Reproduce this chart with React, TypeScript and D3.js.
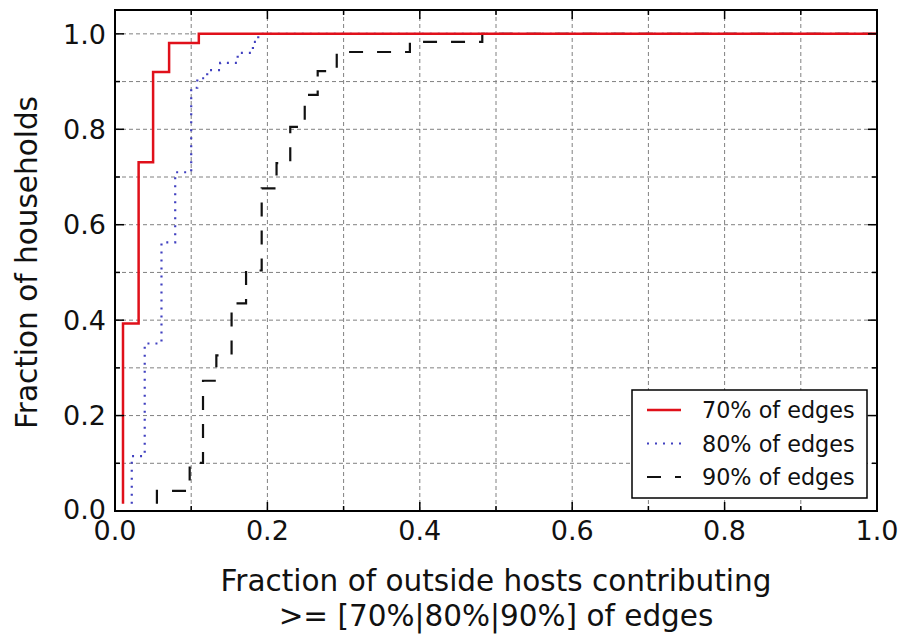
import React from "react";
import * as d3 from "d3";

// Step CDF points (x = fraction of outside hosts, y = fraction of households)
const red70X = [0.0105, 0.0105, 0.031, 0.05, 0.071, 0.11, 1.0];
const red70Y = [0.015, 0.393, 0.731, 0.92, 0.981, 1.0, 1.0];

const blue80X = [0.022, 0.022, 0.039, 0.061, 0.079, 0.1, 0.108, 0.121, 0.138, 0.161, 0.181, 0.188, 1.0];
const blue80Y = [0.015, 0.115, 0.351, 0.563, 0.71, 0.887, 0.907, 0.924, 0.939, 0.96, 0.983, 1.0, 1.0];

const black90X = [0.055, 0.055, 0.098, 0.1155, 0.133, 0.153, 0.172, 0.1925, 0.212, 0.23, 0.249, 0.266, 0.291, 0.387, 0.482, 1.0];
const black90Y = [0.015, 0.042, 0.101, 0.273, 0.326, 0.435, 0.504, 0.676, 0.729, 0.805, 0.872, 0.922, 0.962, 0.983, 1.0, 1.0];

const majorTicks = [0, 0.2, 0.4, 0.6, 0.8, 1.0];
const minorTicks = [0.1, 0.3, 0.5, 0.7, 0.9];
const gridTicks = [0.1, 0.2, 0.3, 0.4, 0.5, 0.6, 0.7, 0.8, 0.9];
const seriesLabels = ["70% of edges", "80% of edges", "90% of edges"];
const xLabel1 = "Fraction of outside hosts contributing";
const xLabel2 = ">= [70%|80%|90%] of edges";
const yLabel = "Fraction of households";

const W = 904;
const H = 637;
const L = 115, R = 877, T = 10, B = 511;
const FONT = "'DejaVu Sans', sans-serif";

export default function App() {
  const x = d3.scaleLinear().domain([0, 1]).range([L, R]);
  const y = d3.scaleLinear().domain([0, 1.05]).range([B, T]);
  const line = d3
    .line<[number, number]>()
    .x((d) => x(d[0]))
    .y((d) => y(d[1]))
    .curve(d3.curveStepAfter);
  const zip = (a: number[], b: number[]) => a.map((v, i) => [v, b[i]] as [number, number]);

  const series = [
    { pts: zip(black90X, black90Y), color: "#111", dash: "14,14", w: 2.2 },
    { pts: zip(blue80X, blue80Y), color: "#4040c0", dash: "2,6", w: 2.2 },
    { pts: zip(red70X, red70Y), color: "#e0101a", dash: "none", w: 2.5 },
  ];

  const fmt = d3.format(".1f");

  return (
    <svg width={W} height={H} style={{ display: "block", position: "absolute", left: 0, top: 0 }}>
      <rect x={0} y={0} width={W} height={H} fill="#fff" />
      {/* grid */}
      <g stroke="#808080" strokeWidth={1} strokeDasharray="4,3" fill="none">
        {gridTicks.map((t) => (
          <line key={"gx" + t} x1={x(t)} x2={x(t)} y1={T} y2={B} />
        ))}
        {[...gridTicks, 1.0].map((t) => (
          <line key={"gy" + t} x1={L} x2={R} y1={y(t)} y2={y(t)} />
        ))}
      </g>
      {/* series */}
      {series.map((s, i) => (
        <path
          key={i}
          d={line(s.pts) || ""}
          fill="none"
          stroke={s.color}
          strokeWidth={s.w}
          strokeDasharray={s.dash}
        />
      ))}
      {/* ticks */}
      <g stroke="#000" strokeWidth={1.5}>
        {majorTicks.map((t) => (
          <g key={"mt" + t}>
            <line x1={x(t)} x2={x(t)} y1={B} y2={B - 9} />
            <line x1={x(t)} x2={x(t)} y1={T} y2={T + 9} />
            <line x1={L} x2={L + 9} y1={y(t)} y2={y(t)} />
            <line x1={R} x2={R - 9} y1={y(t)} y2={y(t)} />
          </g>
        ))}
        {minorTicks.map((t) => (
          <g key={"nt" + t}>
            <line x1={x(t)} x2={x(t)} y1={B} y2={B - 5} />
            <line x1={x(t)} x2={x(t)} y1={T} y2={T + 5} />
            <line x1={L} x2={L + 5} y1={y(t)} y2={y(t)} />
            <line x1={R} x2={R - 5} y1={y(t)} y2={y(t)} />
          </g>
        ))}
      </g>
      {/* frame */}
      <rect x={L} y={T} width={R - L} height={B - T} fill="none" stroke="#000" strokeWidth={2} />
      {/* tick labels */}
      <g fontFamily={FONT} fontSize={27} fill="#111">
        {majorTicks.map((t) => (
          <text key={"xl" + t} x={x(t)} y={B + 29} textAnchor="middle">
            {fmt(t)}
          </text>
        ))}
        {majorTicks.map((t) => (
          <text key={"yl" + t} x={L - 9} y={y(t) - (t === 0 ? 2 : 0)} dy="0.36em" textAnchor="end">
            {fmt(t)}
          </text>
        ))}
      </g>
      {/* axis labels */}
      <g fontFamily={FONT} fontSize={29.5} fill="#111">
        <text x={(L + R) / 2} y={591} textAnchor="middle">{xLabel1}</text>
        <text x={(L + R) / 2} y={626} textAnchor="middle">{xLabel2}</text>
        <text transform={`translate(37, ${(T + B) / 2 + 2}) rotate(-90)`} textAnchor="middle">
          {yLabel}
        </text>
      </g>
      {/* legend */}
      <g>
        <rect x={632} y={390} width={235} height={108} fill="#fff" stroke="#000" strokeWidth={1.5} />
        {series
          .slice()
          .reverse()
          .map((s, i) => {
            const cy = 410 + i * 33.5;
            return (
              <g key={"lg" + i}>
                <line
                  x1={647}
                  x2={681}
                  y1={cy}
                  y2={cy}
                  stroke={s.color}
                  strokeWidth={s.w}
                  strokeDasharray={s.dash}
                />
                <text x={702} y={cy} dy="0.36em" fontFamily={FONT} fontSize={22.3} fill="#111">
                  {seriesLabels[i]}
                </text>
              </g>
            );
          })}
      </g>
    </svg>
  );
}
